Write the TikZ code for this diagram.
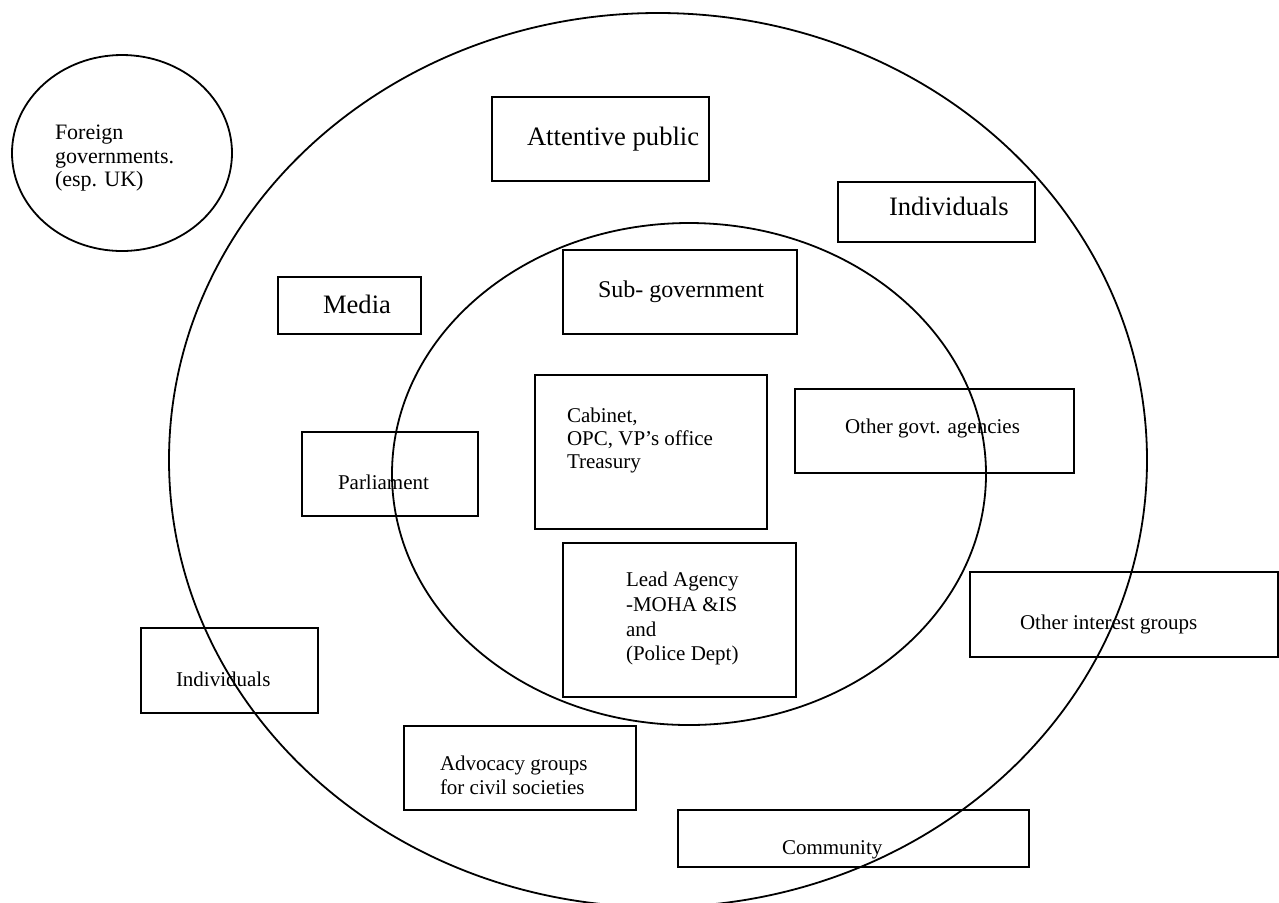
\documentclass[tikz,border=0pt]{standalone}
\usepackage{fontspec}
\setmainfont{Liberation Serif}
\begin{document}
\begin{tikzpicture}[x=0.5pt,y=-0.5pt,
  box/.style={draw,line width=1pt,inner sep=0pt,outer sep=0pt},
  ring/.style={line width=0.9pt},
  lbl/.style={inner sep=0pt,outer sep=0pt,anchor=base west},
  mlbl/.style={inner sep=0pt,outer sep=0pt,anchor=north west,align=left},
  bigf/.style={font=\fontsize{13.3pt}{15pt}\selectfont},
  midf/.style={font=\fontsize{12pt}{14pt}\selectfont},
  smallf/.style={font=\fontsize{10.5pt}{11.5pt}\selectfont}]
\useasboundingbox (0,0) rectangle (1279,902);
% circles
\draw[ring] (658,460) ellipse [x radius=489, y radius=447];
\draw[ring] (689,474) ellipse [x radius=297, y radius=251];
\draw[ring] (122,153) ellipse [x radius=110, y radius=98];
% boxes
\node[box, minimum width=108.5pt, minimum height=42pt]   (attn) at (600.5,139) {};
\node[box, minimum width=98.5pt,  minimum height=30pt]   (indT) at (936.5,212) {};
\node[box, minimum width=71.5pt,  minimum height=28.5pt] (media) at (349.5,305.5) {};
\node[box, minimum width=117pt,   minimum height=42pt]   (subg) at (680,292) {};
\node[box, minimum width=116pt,   minimum height=77pt]   (cab) at (651,452) {};
\node[box, minimum width=139.5pt, minimum height=42pt]   (ogov) at (934.5,431) {};
\node[box, minimum width=88pt,    minimum height=42pt]   (parl) at (390,474) {};
\node[box, minimum width=116.5pt, minimum height=77pt]   (lead) at (679.5,620) {};
\node[box, minimum width=88.5pt,  minimum height=42.5pt] (indL) at (229.5,670.5) {};
\node[box, minimum width=116pt,   minimum height=42pt]   (advo) at (520,768) {};
\node[box, minimum width=154pt,   minimum height=42.5pt] (oint) at (1124,614.5) {};
\node[box, minimum width=175.5pt, minimum height=28.5pt] (comm) at (853.5,838.5) {};
% texts
\node[mlbl, font=\fontsize{11pt}{11.75pt}\selectfont] (foreign) at (55,125) {Foreign\\governments.\\(esp. UK)};
\node[lbl, bigf] (attnT) at (527,145) {Attentive public};
\node[lbl, bigf] (indTT) at (889,215) {Individuals};
\node[lbl, bigf] (mediaT) at (323,313) {Media};
\node[lbl, midf] (subgT) at (598,297) {Sub- government};
\node[mlbl, font=\fontsize{10.5pt}{11.5pt}\selectfont] (cabT) at (567,408) {Cabinet,\\OPC, VP’s office\\Treasury};
\node[lbl, smallf] (ogovT) at (845,433) {Other govt. agencies};
\node[lbl, smallf] (parlT) at (338,489) {Parliament};
\node[mlbl, font=\fontsize{10.5pt}{12.4pt}\selectfont] (leadT) at (626,572) {Lead Agency\\-MOHA \&IS\\and\\(Police Dept)};
\node[lbl, smallf] (indLT) at (176,686) {Individuals};
\node[mlbl, font=\fontsize{10.5pt}{12pt}\selectfont] (advoT) at (440,756) {Advocacy groups\\for civil societies};
\node[lbl, smallf] (ointT) at (1020,629) {Other interest groups};
\node[lbl, smallf] (commT) at (782,854) {Community};
\end{tikzpicture}
\end{document}
